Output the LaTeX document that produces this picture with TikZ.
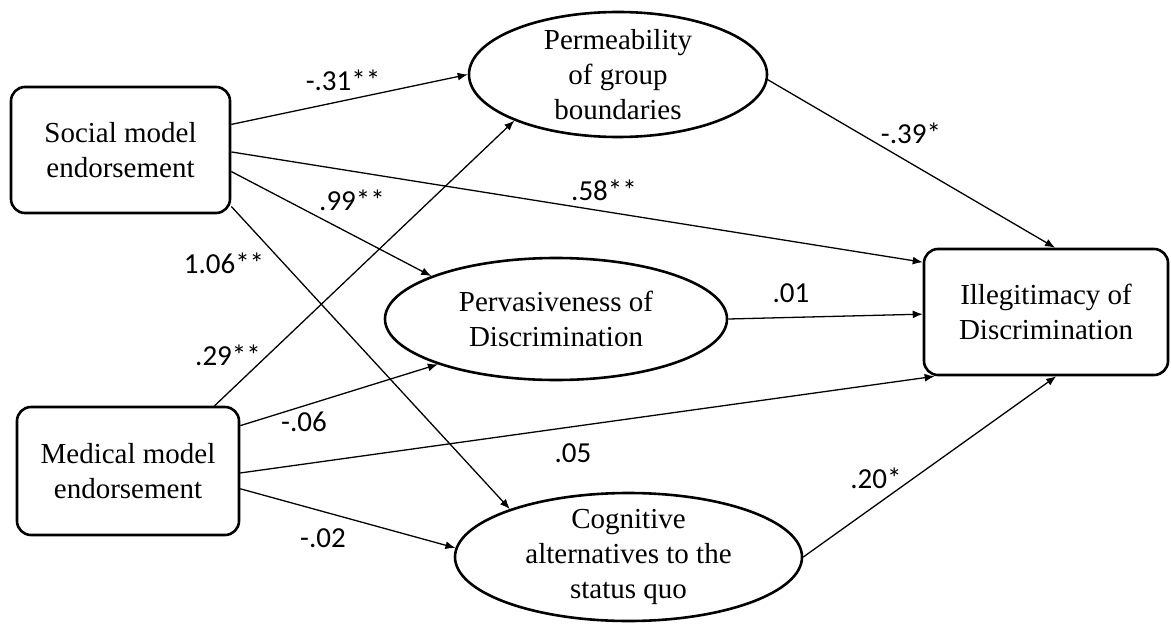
\documentclass[tikz,border=0pt]{standalone}
\usepackage{fontspec}
\setmainfont{Liberation Serif}
\newfontfamily\coeffont{Carlito}
\usetikzlibrary{shapes.geometric,arrows.meta}

\begin{document}
\begin{tikzpicture}[x=0.5bp, y=-0.5bp,
    var/.style={draw, rounded corners=7bp, line width=1.3pt, align=center,
        font=\fontsize{14.5bp}{17.5bp}\selectfont},
    lat/.style={draw, ellipse, line width=1.3pt, align=center, inner xsep=0pt,
        inner ysep=-4bp, font=\fontsize{14.5bp}{17.5bp}\selectfont},
    link/.style={-{Latex[length=5bp,width=4bp]}, line width=0.65pt},
    coef/.style={font=\coeffont\fontsize{14.5bp}{17.5bp}\selectfont, inner sep=0pt}]
    \useasboundingbox (0,0) rectangle (1171,623);

    % Predictors
    \node[var, minimum width=109.5bp, minimum height=63bp] (soc) at (120.5,150) {Social model\\endorsement};
    \node[var, minimum width=111bp, minimum height=64bp] (med) at (128,471) {Medical model\\endorsement};

    % Mediators
    \node[lat, minimum width=149bp, minimum height=62.5bp] (perm) at (618,74.5) {Permeability\\of group\\boundaries};
    \node[lat, minimum width=171bp, minimum height=61bp] (perv) at (556,319) {Pervasiveness of\\Discrimination};
    \node[lat, minimum width=173.5bp, minimum height=64bp] (cog) at (628.5,557) {Cognitive\\alternatives to the\\status quo};

    % Outcome
    \node[var, minimum width=122bp, minimum height=63bp] (ill) at (1046,312) {Illegitimacy of\\Discrimination};

    % Paths from social model
    \draw[link] (soc.13) -- (perm.west);
    \draw[link] (soc.-1) -- (ill.158);
    \draw[link] (soc.-11) -- (perv.161);
    \draw[link] (soc.-27) -- (cog.158);

    % Paths from medical model
    \draw[link] (med.37) -- (perm.204);
    \draw[link] (med.22) -- (perv.201);
    \draw[link] (med.-1) -- (ill.210);
    \draw[link] (med.-9) -- (cog.177);

    % Paths to outcome
    \draw[link] (perm.-2) -- (ill.82);
    \draw[link] (perv.east) -- (ill.181);
    \draw[link] (cog.east) -- (ill.-81);

    % Coefficients
    \node[coef] (c31) at (343,80) {-.31**};
    \node[coef] (c58) at (604,190) {.58**};
    \node[coef] (c99) at (352,200) {.99**};
    \node[coef] (c106) at (224,263) {1.06**};
    \node[coef] (c29) at (228,355) {.29**};
    \node[coef] (c06) at (304,422) {-.06};
    \node[coef] (c05) at (573,453) {.05};
    \node[coef] (c02) at (323,538) {-.02};
    \node[coef] (c39) at (911,133) {-.39*};
    \node[coef] (c01) at (791,293) {.01};
    \node[coef] (c20) at (876,478) {.20*};
\end{tikzpicture}
\end{document}
